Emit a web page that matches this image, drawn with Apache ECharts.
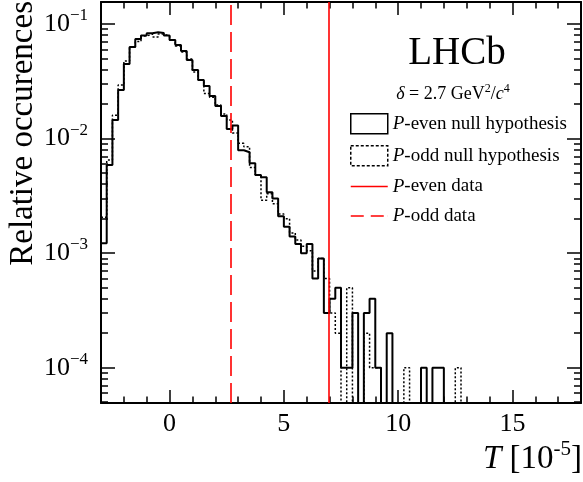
<!DOCTYPE html>
<html><head><meta charset="utf-8">
<script src="https://cdn.jsdelivr.net/npm/echarts@6/dist/echarts.min.js"></script>
<style>html,body{margin:0;padding:0;background:#fff}#c{width:583px;height:482px}</style>
</head><body><div id="c"></div>
<script>
// ---------------- data ----------------
const binStart = -3;
const binWidth = 0.25;
// P-even null hypothesis (solid), one value per bin starting at -3
const evenNull = [
  0.00122, 0.00587, 0.0145, 0.0265, 0.0447, 0.0630, 0.0740, 0.0793, 0.0829, 0.0846,
  0.0834, 0.0793, 0.0725, 0.0656, 0.0581, 0.0485, 0.0397, 0.0324, 0.0287, 0.0235,
  0.0192, 0.0157, 0.0121, 0.0130, 0.0079, 0.0076, 0.0061, 0.0048, 0.0046, 0.0034,
  0.0030, 0.0021, 0.0017, 0.0014, 0.0012, 0.0010, 0.0012, 0.0006, 0.0009, 0.0003,
  0.0004, 0.0005, 0.0001, 0.0001, 0.0003, 0, 0.0003, 0.0004, 0.0001, 0,
  0.0002, 0, 0, 0, 0, 0, 0.0001, 0, 0.0001, 0.0001,
  0, 0, 0, 0, 0, 0, 0, 0, 0, 0,
  0, 0, 0, 0, 0, 0, 0, 0, 0, 0,
  0, 0, 0, 0
];
// P-odd null hypothesis (dotted)
const oddNull = [
  0.00206, 0.00649, 0.0160, 0.0293, 0.0475, 0.0630, 0.0704, 0.0786, 0.0817, 0.0770,
  0.0817, 0.0786, 0.0725, 0.0643, 0.0570, 0.0495, 0.0381, 0.0324, 0.0248, 0.0230,
  0.0196, 0.0164, 0.0145, 0.0112, 0.0091, 0.0085, 0.0056, 0.0048, 0.0029, 0.0033,
  0.0027, 0.0022, 0.0020, 0.0015, 0.0013, 0.00115, 0.00105, 0.0007, 0.0009, 0.0006,
  0.0003, 0.0002, 0, 0.0005, 0, 0, 0.0002, 0.0001, 0.0001, 0,
  0, 0, 0, 0.0001, 0, 0, 0, 0, 0, 0,
  0, 0, 0.0001, 0, 0, 0, 0, 0, 0, 0,
  0, 0, 0, 0, 0, 0, 0, 0, 0, 0,
  0, 0, 0, 0
];
const pEvenData = 6.97;
const pOddData = 2.67;

const xMajorTicks = [0, 5, 10, 15];
const xMinorTicks = [-2, -1, 1, 2, 3, 4, 6, 7, 8, 9, 11, 12, 13, 14, 16, 17];
const yMajorTicks = [1e-4, 1e-3, 1e-2, 1e-1];
const yMinorMantissas = [2, 3, 4, 5, 6, 7, 8, 9];
const yDecades = [1e-5, 1e-4, 1e-3, 1e-2, 1e-1];

const X_MIN = -3, X_MAX = 18;
const Y_MIN = 4.92e-5, Y_MAX = 0.1556;
const EMPTY_BIN = 1e-7;

const FONT = "'Liberation Serif','Times New Roman',serif";

const yMinorTicks = [];
yDecades.forEach(d => yMinorMantissas.forEach(m => {
  const v = m * d; if (v > Y_MIN && v < Y_MAX) yMinorTicks.push(v);
}));

function stepData(vals) {
  const pts = vals.map((v, i) => [binStart + i * binWidth, v > 0 ? v : EMPTY_BIN]);
  const last = vals[vals.length - 1];
  pts.push([binStart + vals.length * binWidth, last > 0 ? last : EMPTY_BIN]);
  return pts;
}

function xAxisDef(pos, ticks, len, showLine, showLabel) {
  return {
    type: 'value', min: X_MIN, max: X_MAX, position: pos,
    axisLine: { show: showLine, onZero: false, lineStyle: { color: '#000', width: 2 } },
    axisTick: { show: true, inside: true, length: len, customValues: ticks, lineStyle: { color: '#000', width: 1.5 } },
    axisLabel: showLabel ? { show: true, customValues: ticks, margin: 8, color: '#000', fontFamily: FONT, fontSize: 26 } : { show: false },
    splitLine: { show: false }
  };
}
function yAxisDef(pos, ticks, len, showLine, showLabel) {
  return {
    type: 'log', logBase: 10, min: Y_MIN, max: Y_MAX, position: pos,
    axisLine: { show: showLine, onZero: false, lineStyle: { color: '#000', width: 2 } },
    axisTick: { show: true, inside: true, length: len, customValues: ticks, lineStyle: { color: '#000', width: 1.5 } },
    axisLabel: showLabel ? {
      show: true, customValues: ticks, margin: 13,
      formatter: v => '{b|10}{s|\u2212' + (-Math.round(Math.log10(v))) + '}',
      rich: {
        b: { fontFamily: FONT, fontSize: 26, lineHeight: 34, color: '#000' },
        s: { fontFamily: FONT, fontSize: 17, lineHeight: 16, verticalAlign: 'top', color: '#000' }
      }
    } : { show: false },
    splitLine: { show: false }
  };
}

const chart = echarts.init(document.getElementById('c'), null, { renderer: 'canvas' });
const option = {
  animation: false,
  backgroundColor: '#fff',
  grid: { left: 101, right: 2, top: 2, bottom: 79 },
  xAxis: [
    xAxisDef('bottom', xMajorTicks, 13, true, true),
    xAxisDef('bottom', xMinorTicks, 6.5, false, false),
    xAxisDef('top', xMajorTicks, 13, true, false),
    xAxisDef('top', xMinorTicks, 6.5, false, false)
  ],
  yAxis: [
    yAxisDef('left', yMajorTicks, 14, true, true),
    yAxisDef('left', yMinorTicks, 7, false, false),
    yAxisDef('right', yMajorTicks, 14, true, false),
    yAxisDef('right', yMinorTicks, 7, false, false)
  ],
  legend: {
    show: true, selectedMode: false, orient: 'vertical',
    left: 350, top: 113, padding: 0,
    itemWidth: 37, itemHeight: 20, itemGap: 10.5,
    textStyle: {
      color: '#000', fontFamily: FONT, fontSize: 19,
      rich: {
        i: { fontFamily: FONT, fontSize: 19, fontStyle: 'italic', color: '#000' },
        n: { fontFamily: FONT, fontSize: 19, color: '#000' }
      }
    },
    formatter: name => '{i|P}{n|' + name.slice(1) + '}',
    data: [
      { name: 'P-even null hypothesis', icon: 'rect',
        itemStyle: { color: 'rgba(0,0,0,0)', borderColor: '#000', borderWidth: 1.5, borderType: 'solid' } },
      { name: 'P-odd null hypothesis', icon: 'rect',
        itemStyle: { color: 'rgba(0,0,0,0)', borderColor: '#000', borderWidth: 1.5, borderType: [3, 2] } },
      { name: 'P-even data', icon: 'path://M0,0h37v1.6h-37z',
        itemStyle: { color: '#ff0000', borderWidth: 0 } },
      { name: 'P-odd data', icon: 'path://M0,0h13v1.6h-13zM20,0h13v1.6h-13zM36.9,0h0.1v1.6h-0.1z',
        itemStyle: { color: '#ff0000', borderWidth: 0 } }
    ]
  },
  graphic: [
    { type: 'text', x: 457, y: 54, silent: true,
      style: { text: 'LHCb', fill: '#000', font: '39px ' + FONT, textAlign: 'center', textVerticalAlign: 'middle' } },
    { type: 'text', x: 453, y: 94, silent: true,
      style: {
        text: '{i|\u03b4}{b| = 2.7 GeV}{s|2}{b|/}{i|c}{s|4}', textAlign: 'center', textVerticalAlign: 'middle',
        rich: {
          i: { fontFamily: FONT, fontSize: 18, fontStyle: 'italic', lineHeight: 22, fill: '#000' },
          b: { fontFamily: FONT, fontSize: 18, lineHeight: 22, fill: '#000' },
          s: { fontFamily: FONT, fontSize: 12, lineHeight: 12, verticalAlign: 'top', fill: '#000' }
        }
      } },
    { type: 'text', x: 582, y: 459, silent: true,
      style: {
        text: '{i|T}{b| [10}{s|-5}{b|]}', textAlign: 'right', textVerticalAlign: 'middle',
        rich: {
          i: { fontFamily: FONT, fontSize: 33, fontStyle: 'italic', lineHeight: 40, fill: '#000' },
          b: { fontFamily: FONT, fontSize: 33, lineHeight: 40, fill: '#000' },
          s: { fontFamily: FONT, fontSize: 21, lineHeight: 21, verticalAlign: 'top', fill: '#000' }
        }
      } },
    { type: 'text', x: 23.5, y: 1, rotation: Math.PI / 2, silent: true,
      style: { text: 'Relative occurences', fill: '#000', font: '33px ' + FONT, textAlign: 'right', textVerticalAlign: 'middle' } }
  ],
  series: [
    { name: 'P-even null hypothesis', type: 'line', step: 'end', xAxisIndex: 0, yAxisIndex: 0,
      data: stepData(evenNull), symbol: 'none', showSymbol: false, clip: true, z: 3,
      lineStyle: { color: '#000', width: 2, type: 'solid' }, itemStyle: { color: '#000' } },
    { name: 'P-odd null hypothesis', type: 'line', step: 'end', xAxisIndex: 0, yAxisIndex: 0,
      data: stepData(oddNull), symbol: 'none', showSymbol: false, clip: true, z: 2,
      lineStyle: { color: '#000', width: 1.5, type: [2, 2] }, itemStyle: { color: '#000' } },
    { name: 'P-even data', type: 'line', xAxisIndex: 0, yAxisIndex: 0, data: [], symbol: 'none',
      lineStyle: { color: '#ff0000', width: 1.5 }, itemStyle: { color: '#ff0000' },
      markLine: { silent: true, symbol: ['none', 'none'], label: { show: false },
        lineStyle: { color: '#ff0000', width: 1.6, type: 'solid' }, data: [{ xAxis: pEvenData }] } },
    { name: 'P-odd data', type: 'line', xAxisIndex: 0, yAxisIndex: 0, data: [], symbol: 'none',
      lineStyle: { color: '#ff0000', width: 1.5, type: 'dashed' }, itemStyle: { color: '#ff0000' },
      markLine: { silent: true, symbol: ['none', 'none'], label: { show: false },
        lineStyle: { color: '#ff0000', width: 1.6, type: [20, 7] }, data: [{ xAxis: pOddData }] } }
  ]
};
chart.setOption(option);
</script>
</body></html>
